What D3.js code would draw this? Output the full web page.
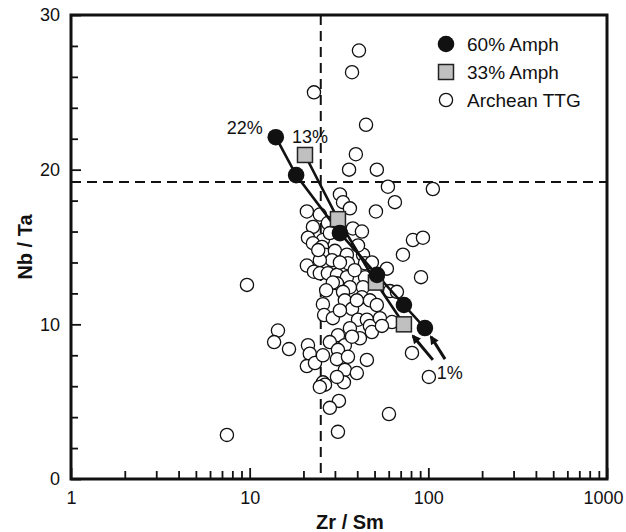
<!DOCTYPE html>
<html>
<head>
<meta charset="utf-8">
<script src="https://cdn.jsdelivr.net/npm/d3@7"></script>
<style>
  body { margin: 0; background: #fff; }
  text { font-family: "Liberation Sans", Arial, sans-serif; fill: #111; }
</style>
</head>
<body>
<svg id="chart" width="626" height="532"></svg>
<script>
// Archean TTG (open circles)
const ttgZrSm = [40.9, 37.4, 22.9, 44.8, 39.3, 36.0, 51.5, 59.4, 106, 32.0, 65.0, 33.3, 36.4, 50.9, 20.9,
  24.7, 22.6, 27.4, 37.8, 42.5, 21.2, 25.7, 82.0, 93.3, 72.1, 22.6, 25.4, 26.4, 30.0, 28.9,
  35.0, 35.5, 43.1, 44.2, 48.3, 58.6, 20.9, 22.9, 24.7, 24.7, 27.4, 30.8, 35.0, 44.2, 30.8,
  36.4, 33.3, 43.1, 29.2, 61.0, 66.7, 91.0, 42.5, 47.1, 34.1, 37.4, 51.5, 25.7, 26.1, 29.2,
  40.4, 45.3, 47.1, 53.6, 62.6, 36.4, 41.4, 48.3, 55.0, 31.2, 34.1, 37.4, 14.4, 13.7, 16.6,
  21.2, 21.7, 20.9, 23.2, 25.7, 28.1, 31.2, 30.8, 35.5, 45.3, 34.1, 39.8, 33.7, 30.8, 25.7,
  26.4, 24.7, 31.6, 28.1, 31.2, 60.2, 81.0, 100.7, 9.66, 7.46, 28.1, 40.4,
  24.2, 32.0, 38.7, 26.8, 39.8, 32.0];
const ttgNbTa = [27.7, 26.3, 25.0, 22.9, 21.0, 20.0, 20.0, 18.9, 18.75, 18.4, 17.9, 17.9, 17.5, 17.3, 17.3,
  17.1, 16.3, 16.55, 16.2, 16.0, 15.6, 15.45, 15.45, 15.6, 14.5, 15.25, 15.0, 14.5, 14.75, 14.15,
  14.5, 13.95, 14.5, 13.95, 14.0, 13.6, 13.8, 13.4, 14.15, 13.3, 13.3, 13.2, 13.05, 13.05, 12.65,
  12.4, 12.1, 12.4, 12.7, 12.15, 12.1, 13.05, 11.75, 11.55, 11.55, 11.0, 11.25, 11.3, 10.6, 10.4,
  10.3, 10.3, 9.9, 10.4, 10.15, 9.75, 9.1, 9.5, 9.9, 9.3, 8.65, 9.2, 9.6, 8.85, 8.4,
  8.65, 8.1, 7.3, 7.5, 8.0, 8.85, 8.35, 7.75, 7.9, 7.7, 7.05, 6.85, 6.25, 6.6, 6.25,
  6.1, 5.95, 5.05, 4.6, 3.05, 4.2, 8.15, 6.6, 12.55, 2.85, 15.9, 15.1,
  14.8, 14.0, 13.5, 12.2, 11.55, 10.9];

// melting models
const amph60ZrSm = [14.0, 18.2, 32.0, 51.6, 73.0, 95.7];
const amph60NbTa = [22.1, 19.65, 15.9, 13.2, 11.25, 9.76];
const amph33ZrSm = [20.4, 31.2, 50.9, 73.0];
const amph33NbTa = [20.95, 16.8, 12.7, 10.0];

// arrows pointing at the 1% melt ends
const arrowFromZr = [106, 124];
const arrowFromNb = [7.7, 7.75];
const arrowToZr = [82.0, 103.5];
const arrowToNb = [9.25, 9.2];

const xTicks = [1, 10, 100, 1000];
const yTicks = [0, 10, 20, 30];
const zrCut = 25;
const nbCut = 19.2;

const legendLabels = ["60% Amph", "33% Amph", "Archean TTG"];

const svg = d3.select("#chart");
const margin = { top: 15, right: 19, bottom: 53, left: 71 };
const width = +svg.attr("width") - margin.left - margin.right;
const height = +svg.attr("height") - margin.top - margin.bottom;
const g = svg.append("g").attr("transform", `translate(${margin.left},${margin.top})`);

const x = d3.scaleLog().domain([1, 1000]).range([0, width]);
const y = d3.scaleLinear().domain([0, 30]).range([height, 0]);

// minor ticks
const xMinor = [1, 10, 100].flatMap(p => [2, 3, 4, 5, 6, 7, 8, 9].map(m => m * p));
const yMinor = d3.range(0, 31, 2).filter(v => v % 10 !== 0);

function styleAxis(sel) {
  sel.select(".domain").remove();
  sel.selectAll(".tick line").attr("stroke", "#111").attr("stroke-width", 1.8);
  sel.selectAll(".tick text").style("font-size", "18px").attr("fill", "#111")
    .style("font-family", '"Liberation Sans", Arial, sans-serif');
}

g.append("g").attr("transform", `translate(0,${height})`)
  .call(d3.axisBottom(x).tickValues(xMinor).tickSize(-8).tickFormat(""))
  .call(styleAxis);
g.append("g").attr("transform", `translate(0,${height})`)
  .call(d3.axisBottom(x).tickValues(xTicks).tickSize(-11).tickPadding(12).tickFormat(d3.format("d")))
  .call(styleAxis)
  .selectAll(".tick text")
  .attr("dx", d => d === 1000 ? "-4px" : null);
g.append("g")
  .call(d3.axisLeft(y).tickValues(yMinor).tickSize(-7).tickFormat(""))
  .call(styleAxis);
g.append("g")
  .call(d3.axisLeft(y).tickValues(yTicks).tickSize(-10).tickPadding(11))
  .call(styleAxis);

// dashed reference lines
g.append("line")
  .attr("x1", x(zrCut)).attr("x2", x(zrCut))
  .attr("y1", 0).attr("y2", height)
  .attr("stroke", "#111").attr("stroke-width", 2).attr("stroke-dasharray", "10,6");
g.append("line")
  .attr("x1", 0).attr("x2", width)
  .attr("y1", y(nbCut)).attr("y2", y(nbCut))
  .attr("stroke", "#111").attr("stroke-width", 2).attr("stroke-dasharray", "10,6");

// TTG points
g.selectAll(".ttg")
  .data(ttgZrSm.map((v, i) => ({ zr: v, nb: ttgNbTa[i] })))
  .join("circle")
  .attr("class", "ttg")
  .attr("cx", d => x(d.zr))
  .attr("cy", d => y(d.nb))
  .attr("r", 6.6)
  .attr("fill", "#fff")
  .attr("stroke", "#111")
  .attr("stroke-width", 1.3);

// model lines
const line = d3.line().x(d => x(d.zr)).y(d => y(d.nb));
const m60 = amph60ZrSm.map((v, i) => ({ zr: v, nb: amph60NbTa[i] }));
const m33 = amph33ZrSm.map((v, i) => ({ zr: v, nb: amph33NbTa[i] }));

g.append("path").datum(m33)
  .attr("fill", "none").attr("stroke", "#111").attr("stroke-width", 2.6).attr("d", line);
g.append("path").datum(m60)
  .attr("fill", "none").attr("stroke", "#111").attr("stroke-width", 2.6).attr("d", line);

g.selectAll(".sq")
  .data(m33)
  .join("rect")
  .attr("class", "sq")
  .attr("x", d => x(d.zr) - 7.5)
  .attr("y", d => y(d.nb) - 7.5)
  .attr("width", 15).attr("height", 15)
  .attr("fill", "#c0c0c0")
  .attr("stroke", "#222")
  .attr("stroke-width", 1.5);

g.selectAll(".dot")
  .data(m60)
  .join("circle")
  .attr("class", "dot")
  .attr("cx", d => x(d.zr))
  .attr("cy", d => y(d.nb))
  .attr("r", 8.3)
  .attr("fill", "#111");

// arrows
svg.append("defs").append("marker")
  .attr("id", "head")
  .attr("viewBox", "0 0 10 10")
  .attr("refX", 8).attr("refY", 5)
  .attr("markerUnits", "userSpaceOnUse")
  .attr("markerWidth", 10).attr("markerHeight", 9)
  .attr("orient", "auto")
  .append("path").attr("d", "M0,0L10,5L0,10z").attr("fill", "#111");

arrowFromZr.forEach((v, i) => {
  g.append("line")
    .attr("x1", x(v)).attr("y1", y(arrowFromNb[i]))
    .attr("x2", x(arrowToZr[i])).attr("y2", y(arrowToNb[i]))
    .attr("stroke", "#111").attr("stroke-width", 3)
    .attr("marker-end", "url(#head)");
});

// labels
g.append("text")
  .attr("x", x(amph60ZrSm[0]) - 13).attr("y", y(amph60NbTa[0]) - 3)
  .attr("text-anchor", "end").style("font-size", "18px").text("22%");
g.append("text")
  .attr("x", x(amph33ZrSm[0]) + 5).attr("y", y(amph33NbTa[0]) - 12)
  .attr("text-anchor", "middle").style("font-size", "18px").text("13%");
g.append("text")
  .attr("x", x(132)).attr("y", y(6.85) + 6)
  .attr("text-anchor", "middle").style("font-size", "18px").text("1%");

// frame
g.append("rect")
  .attr("width", width).attr("height", height)
  .attr("fill", "none").attr("stroke", "#111").attr("stroke-width", 3);

// axis titles
svg.append("text")
  .attr("text-anchor", "middle")
  .attr("x", 350).attr("y", 529)
  .style("font-size", "20px").style("font-weight", "bold")
  .text("Zr / Sm");
svg.append("text")
  .attr("text-anchor", "middle")
  .attr("transform", "rotate(-90)")
  .attr("x", -247).attr("y", 32)
  .style("font-size", "20px").style("font-weight", "bold")
  .text("Nb / Ta");

// legend
const legend = svg.append("g").attr("transform", "translate(446,44)");
legend.append("circle").attr("r", 8.3).attr("fill", "#111");
legend.append("rect").attr("x", -7.5).attr("y", 28 - 7.5).attr("width", 15).attr("height", 15)
  .attr("fill", "#c0c0c0").attr("stroke", "#222").attr("stroke-width", 1.5);
legend.append("circle").attr("cy", 56).attr("r", 6.6)
  .attr("fill", "#fff").attr("stroke", "#111").attr("stroke-width", 1.3);
legendLabels.forEach((t, i) => {
  legend.append("text").attr("x", 21).attr("y", i * 28 + 7)
    .style("font-size", "19px").text(t);
});
</script>
</body>
</html>
